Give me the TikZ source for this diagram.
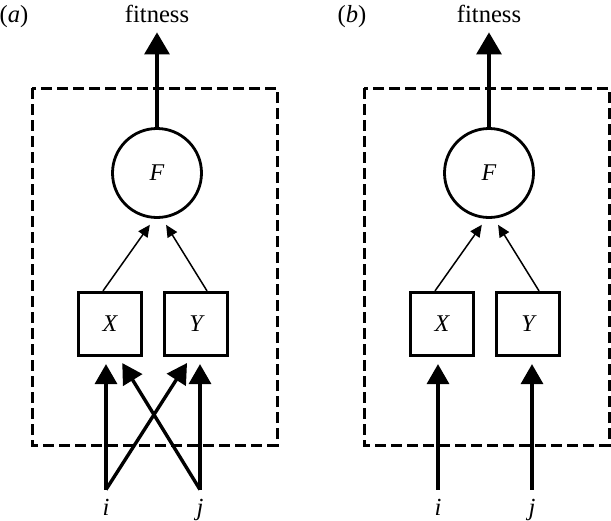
\documentclass[tikz,border=0pt]{standalone}
\usepackage{fontspec}
\setmainfont{Liberation Serif}
\usetikzlibrary{positioning,arrows.meta}

\tikzset{
  frame/.style={line width=1.5pt, dash pattern=on 5.5pt off 2.5pt},
  fnode/.style={draw, circle, line width=1.4pt, minimum size=44.5pt, inner sep=0pt, font=\fontsize{12}{14}\selectfont\itshape},
  trait/.style={draw, rectangle, line width=1.4pt, minimum size=31.7pt, inner sep=0pt, font=\fontsize{12}{14}\selectfont\itshape},
  lbl/.style={anchor=base, inner sep=0pt, font=\fontsize{12.3}{14}\selectfont},
  gene/.style={anchor=base, inner xsep=0pt, inner ysep=4.5pt, text height=8pt, font=\fontsize{12.3}{14}\selectfont\itshape},
  fitarrow/.style={line width=1.6pt, -{Triangle[length=11pt,width=12.5pt]}},
  genearrow/.style={line width=1.7pt, -{Triangle[length=10pt,width=11pt]}, shorten >=3.5pt},
  link/.style={line width=0.75pt, -{Triangle[length=6pt,width=5.5pt]}},
}

\begin{document}
\begin{tikzpicture}[x=0.5pt, y=-0.5pt]
\useasboundingbox (0,0) rectangle (611,520);

% (a) both genes act on both traits
\node[lbl] (taga) at (14,22) {(\textit{a})};
\node[lbl, text depth=0pt] (fita) at (157,22) {fitness};
\draw[frame] (32,88) rectangle (277,445);
\node[fnode] (Fa) at (157,173) {F};
\node[trait] (Xa) at (110,324) {X};
\node[trait] (Ya) at (196,324) {Y};
\node[gene] (ia) at (106,515) {i};
\node[gene] (ja) at (200,515) {j};

\draw[fitarrow, shorten >=5pt] (Fa.north) -- (fita.south);
\draw[link, shorten >=3.6pt] ([xshift=-3.5pt]Xa.north) -- ([xshift=-1.5pt]Fa.south);
\draw[link, shorten >=3.5pt] ([xshift=5.5pt]Ya.north) -- ([xshift=2.7pt]Fa.south);
\draw[genearrow] (ia.north) -- (ia.north |- Xa.south);
\draw[genearrow] (ia.north) -- ([xshift=-2.6pt]Ya.south);
\draw[genearrow] (ja.north) -- ([xshift=4.3pt]Xa.south);
\draw[genearrow] (ja.north) -- (ja.north |- Ya.south);

% (b) one gene per trait
\node[lbl] (tagb) at (352,22) {(\textit{b})};
\node[lbl, text depth=0pt] (fitb) at (489,22) {fitness};
\draw[frame] (364,88) rectangle (609,445);
\node[fnode] (Fb) at (489,173) {F};
\node[trait] (Xb) at (442,324) {X};
\node[trait] (Yb) at (528,324) {Y};
\node[gene] (ib) at (438,515) {i};
\node[gene] (jb) at (532,515) {j};

\draw[fitarrow, shorten >=5pt] (Fb.north) -- (fitb.south);
\draw[link, shorten >=3.6pt] ([xshift=-3.5pt]Xb.north) -- ([xshift=-1.5pt]Fb.south);
\draw[link, shorten >=3.5pt] ([xshift=5.5pt]Yb.north) -- ([xshift=2.7pt]Fb.south);
\draw[genearrow] (ib.north) -- (ib.north |- Xb.south);
\draw[genearrow] (jb.north) -- (jb.north |- Yb.south);
\end{tikzpicture}
\end{document}
